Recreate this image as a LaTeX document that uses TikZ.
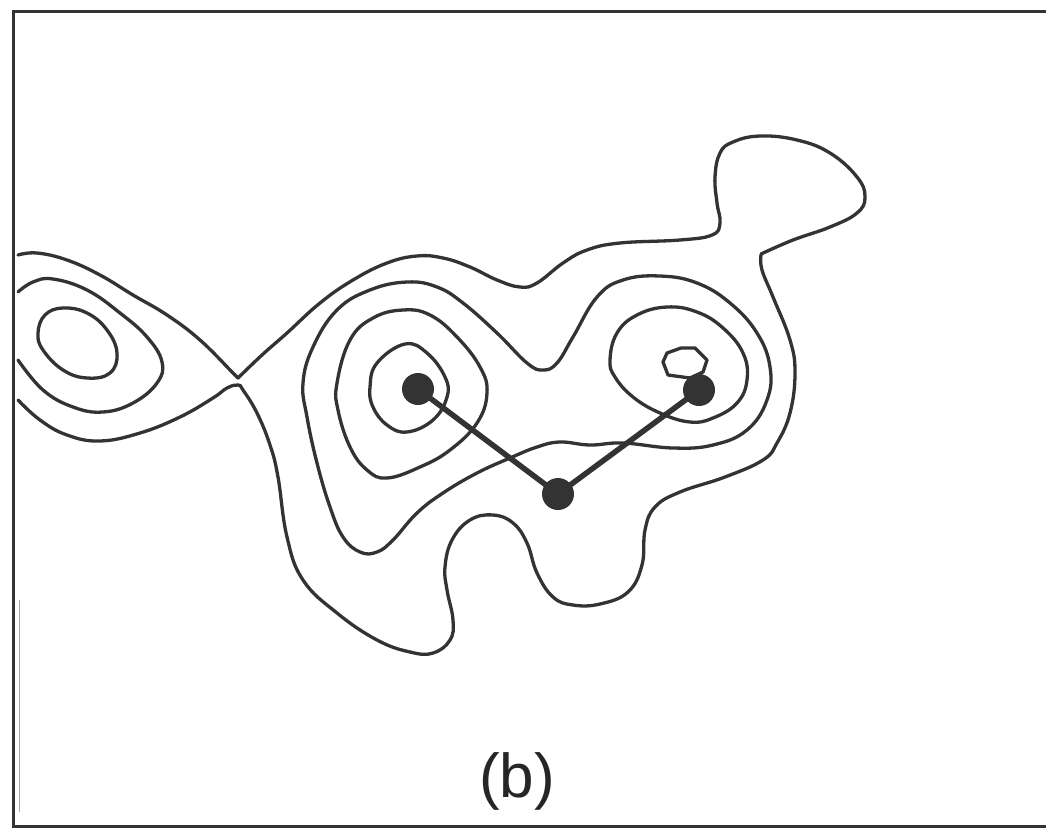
\documentclass[tikz,border=0pt]{standalone}
\usepackage{fontspec}
\setmainfont{Liberation Sans}
\definecolor{ink}{HTML}{333333}
\tikzset{
  contour/.style={draw=ink,line width=3.3pt,line join=round,line cap=round},
  dotnode/.style={circle,fill=ink,draw=none,minimum size=32pt,inner sep=0pt},
  link/.style={draw=ink,line width=5.5pt},
}
\begin{document}
\begin{tikzpicture}[x=1pt,y=-1pt]
\useasboundingbox (0,0) rectangle (1046,828);
\fill[white] (0,0) rectangle (1046,828);
% frame
\draw[ink,line width=3pt] (1046,11) -- (13,11) -- (13,826) -- (1046,826);
\draw[black!35,line width=1pt] (19,600) -- (19,812);
% big outer contour
\draw[contour] plot[smooth,tension=0.7] coordinates {
 (18,255) (37,253) (67,260) (100,275) (133,295) (167,315) (200,340) (233,373) (238,378)};
\draw[contour] plot[smooth,tension=0.7] coordinates {
 (18,400) (40,420) (67,435) (100,441) (140,433) (180,417) (213,398) (227,388) (238,385) (243,390) (257,413) (270,445)
 (278,477) (287,537) (303,580) (337,613) (377,640) (410,652) (433,653) (450,640) (453,620) (447,590) (445,567) (452,540)
 (470,520) (493,515) (513,523) (527,543) (537,573) (553,597) (573,605) (600,604) (628,592) (642,565) (645,530) (655,507) (680,492)
 (725,477) (763,460) (777,443) (790,413) (795,373) (790,340) (773,297) (762,270) (761,255)};
\draw[contour] plot[smooth,tension=0.7] coordinates {
 (761,254) (793,240) (830,227) (857,213) (865,197) (857,177) (830,153) (797,140) (760,136) (733,142) (720,153) (715,177)
 (717,203) (720,223) (712,235) (680,240) (620,243) (587,250) (563,263) (537,283) (520,287) (497,280) (470,267) (443,258)
 (417,256) (387,263) (353,280) (320,303) (287,333) (262,355) (238,378)};
% left loops
\draw[contour] plot[smooth,tension=0.7] coordinates {
 (18,292) (33,282) (53,279) (87,290) (120,313) (147,337) (162,362) (157,383) (133,403) (103,412) (73,407) (43,390) (18,360)};
\draw[contour] plot[smooth cycle,tension=0.7] coordinates {
 (63,308) (87,313) (107,330) (117,353) (110,373) (87,378) (63,370) (43,350) (38,333) (45,315)};
% second contour
\draw[contour] plot[smooth cycle,tension=0.7] coordinates {
 (303,383) (313,347) (337,310) (370,290) (407,282) (437,287) (463,303) (497,333) (527,363) (543,370) (557,363) (573,337)
 (597,297) (623,280) (660,276) (697,283) (730,303) (757,333) (770,367) (767,400) (747,430) (713,445) (673,448) (623,443)
 (590,445) (560,442) (537,447) (510,458) (477,473) (443,493) (417,513) (393,540) (377,552) (360,552) (343,537) (330,507) (317,463) (307,417)};
% third contours
\draw[contour] plot[smooth cycle,tension=0.7] coordinates {
 (337,383) (350,340) (373,318) (403,310) (430,315) (457,337) (480,367) (487,393) (477,423) (450,450) (420,467) (387,478) (367,470) (350,447) (338,410)};
\draw[contour] plot[smooth cycle,tension=0.7] coordinates {
 (610,360) (617,333) (637,315) (667,307) (697,312) (723,328) (743,353) (747,380) (737,403) (713,418) (690,422) (660,413) (633,397) (615,377)};
% inner contours
\draw[contour] plot[smooth cycle,tension=0.7] coordinates {
 (370,387) (377,363) (405,344) (427,353) (445,377) (447,397) (433,420) (407,432) (387,425) (373,407)};
\draw[contour] (667,353) -- (681,348) -- (695,348) -- (707,360) -- (703,372) -- (690,378) -- (668,375) -- (663,362) -- cycle;
% dots and links
\node[dotnode] (p1) at (418,389) {};
\node[dotnode] (p2) at (558,494) {};
\node[dotnode] (p3) at (699,390) {};
\draw[link] (p1.center) -- (p2.center) -- (p3.center);
% label
\node[text=black!85,font=\fontsize{62}{62}\selectfont,inner sep=0pt] (lab) at (517,781) {(b)};
\end{tikzpicture}
\end{document}
